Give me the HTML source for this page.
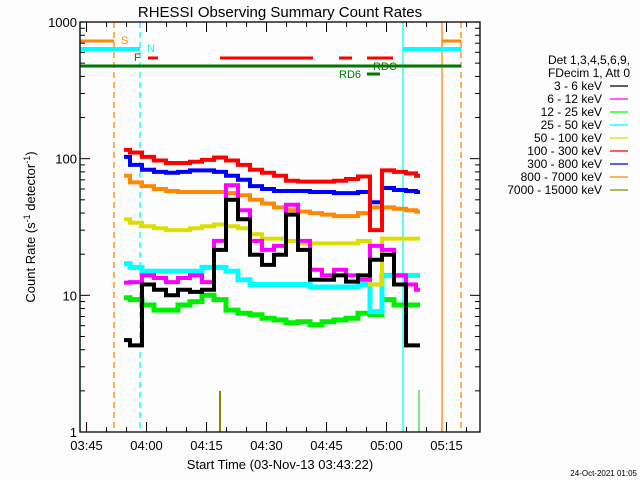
<!DOCTYPE html>
<html><head><meta charset="utf-8">
<style>
body{margin:0;background:#fcfcfc;}
svg{display:block;font-family:"Liberation Sans",sans-serif;}
</style></head>
<body>
<svg id="chart" width="640" height="480" viewBox="0 0 640 480">
<rect x="0" y="0" width="640" height="480" fill="#fcfcfc"/>
<text x="280" y="17" font-size="15" text-anchor="middle" fill="#000">RHESSI Observing Summary Count Rates</text>
<text transform="translate(35,227) rotate(-90)" font-size="13" text-anchor="middle" fill="#000">Count Rate (s<tspan baseline-shift="super" font-size="9">-1</tspan> detector<tspan baseline-shift="super" font-size="9">-1</tspan>)</text>
<text x="280" y="469" font-size="13" text-anchor="middle" fill="#000">Start Time (03-Nov-13 03:43:22)</text>
<text x="637" y="476" font-size="8" text-anchor="end" fill="#000">24-Oct-2021 01:05</text>
<g id="marks"></g>
<g id="axes"></g>
<g id="legend"></g>
</svg>
<script>
// time in minutes since 03:43:22
const times = [11,14,17,20,23,26,29,32,35,38,41,44,47,50,53,56,59,62,65,68,71,74,77,80,83,85];
const red     = [116,111,103,97,93,93,95,98,102,97,90,83,79,75,69,68,68,68,69,71,74,30,82,80,78,75];
const blue    = [103,90,83,80,79,80,82,82,80,75,70,63,60,58,58,58,57,57,56,56,57,48,61,59,58,57];
const orange  = [75,67,63,60,58,57,57,57,57,56,54,50,47,44,42,41,40,39,38,38,40,44,44,43,42,41];
const yellow  = [36,34,32,31,30,30,31,32,33,32,31,28,26,26,25,24,24,24,24,24,25,12,26,26,26,26];
const cyan    = [17,16,15,15,15,15,15,16,16,15,13,12,12,12,12,12,11.5,11.5,11.5,11.5,12,7.6,14,14,14,14];
const green   = [9.6,9.3,8.5,7.8,7.8,8.5,9.0,10,9.3,7.8,7.4,7.2,6.8,6.6,6.3,6.4,6.1,6.4,6.6,6.8,7.4,7.2,9.3,8.5,8.5,8.5];
const magenta = [12.4,12.5,14,13.4,12.5,13.4,14,12.5,25,64,42,25,21.5,23,46,25,15.4,14,15.4,14,13,23,21.5,14,12,11];
const black   = [4.7,4.3,12,11,10,11,10.6,11,21.5,50,36,19.8,16.7,19.8,39,21.5,13,13,14,12.6,14,18.2,19.8,12,4.3,4.3];
const olive   = [1,1,1,1,1,1,1,1,2.0,1,1,1,1,1,1,1,1,1,1,1,1,1,1,1,1,1];
const xTickLabels = ["03:45","04:00","04:15","04:30","04:45","05:00","05:15"];
const xTickMinutes = [1.633,16.633,31.633,46.633,61.633,76.633,91.633];
const yTickLabels = ["1","10","100","1000"];
const yTickValues = [1,10,100,1000];
const legendLabels = ["3 - 6 keV","6 - 12 keV","12 - 25 keV","25 - 50 keV","50 - 100 keV","100 - 300 keV","300 - 800 keV","800 - 7000 keV","7000 - 15000 keV"];

const NS="http://www.w3.org/2000/svg";
const L=80,R=480,T=22,B=432;
function xs(t){return L+(t/100)*(R-L);}
function ys(v){return B-(B-T)*Math.log10(v)/3;}
function mk(tag,attrs,parent){const e=document.createElementNS(NS,tag);for(const k in attrs)e.setAttribute(k,attrs[k]);parent.appendChild(e);return e;}
const marks=document.getElementById('marks'),axes=document.getElementById('axes'),legend=document.getElementById('legend');

// vertical event lines
const vl=[[80,'#00ffff',null],[114,'#ff8800','6,4'],[140,'#00ffff','6,4'],[403,'#00ffff',null],[442,'#ff8800',null],[461,'#ff8800','6,4']];
vl.forEach(v=>{const e=mk('line',{x1:v[0],x2:v[0],y1:T,y2:B,stroke:v[1],'stroke-width':1.3},marks);if(v[2])e.setAttribute('stroke-dasharray',v[2]);

});
const gl=mk('line',{x1:419,x2:419,y1:390,y2:B,stroke:'#00cc00','stroke-width':1},marks);



// flag bars
const bars=[[80,114,41,'#ff8800',3],[442,461,41,'#ff8800',3],[80,140,49,'#00ffff',4],[403,461,49,'#00ffff',4],
[148,158,58,'#ff0000',3],[220,313,58,'#ff0000',3],[339,352,58,'#ff0000',3],[367,393,58,'#ff0000',3],
[80,461,66,'#007700',3],[367,380,74,'#007700',3]];
bars.forEach(b=>{const e=mk('line',{x1:b[0],x2:b[1],y1:b[2],y2:b[2],stroke:b[3],'stroke-width':b[4]},marks);

});
const fl=[['S',121,44,'#ff8800'],['N',147,52,'#00ffff'],['F',134,61,'#ff0000'],['RDC',373,70,'#007700'],['RD6',339,78,'#007700']];
fl.forEach(f=>{const e=mk('text',{x:f[1],y:f[2],fill:f[3],'font-size':11},marks);e.textContent=f[0];

});

// series
const series=[[olive,'#888800',0,'olive-series'],[green,'#00ee00',5,'series-12-25'],[cyan,'#00ffff',5,'series-25-50'],[yellow,'#dddd00',4,'series-50-100'],
[orange,'#ff8800',4,'series-800-7000'],[blue,'#0000ff',4,'series-300-800'],[red,'#ff0000',4,'series-100-300'],[magenta,'#ff00ff',4,'series-6-12'],[black,'#000000',4,'series-3-6']];
series.forEach(s=>{
  if(s[2]===0){
    s[0].forEach((v,i)=>{if(v>1){const e=mk('line',{x1:xs(times[i]),x2:xs(times[i]),y1:ys(1),y2:ys(v),stroke:s[1],'stroke-width':2},marks);
    
    }});
    return;
  }
  const n=s[0].length;
  const p=[];
  s[0].forEach((v,i)=>{
    const x0=i===0?xs(times[0]):(xs(times[i-1])+xs(times[i]))/2;
    const x1=i===n-1?xs(times[n-1]):(xs(times[i])+xs(times[i+1]))/2;
    p.push(x0.toFixed(1)+','+ys(v).toFixed(1));
    p.push(x1.toFixed(1)+','+ys(v).toFixed(1));
  });
  const e=mk('polyline',{points:p.join(' '),fill:'none',stroke:s[1],'stroke-width':s[2],'stroke-linejoin':'miter'},marks);
  
  
});

// axes box
const box=mk('rect',{x:L,y:T,width:R-L,height:B-T,fill:'none',stroke:'#000','stroke-width':1.3},axes);


// y ticks
for(let d=0;d<3;d++){for(let m=1;m<10;m++){const v=Math.pow(10,d)*m;const y=ys(v);const len=m===1?10:5;
  mk('line',{x1:L,x2:L+len,y1:y,y2:y,stroke:'#000'},axes);mk('line',{x1:R,x2:R-len,y1:y,y2:y,stroke:'#000'},axes);}}
yTickValues.forEach((v,i)=>{const e=mk('text',{x:L-3,y:ys(v)+5,'font-size':13,'text-anchor':'end',fill:'#000'},axes);e.textContent=yTickLabels[i];

});
// x ticks
for(let t=1.633;t<100;t+=5){const x=xs(t);const major=Math.abs(((t-1.633)/15)-Math.round((t-1.633)/15))<0.01;const len=major?10:5;
  mk('line',{x1:x,x2:x,y1:B,y2:B-len,stroke:'#000'},axes);mk('line',{x1:x,x2:x,y1:T,y2:T+len,stroke:'#000'},axes);}
xTickMinutes.forEach((t,i)=>{const e=mk('text',{x:xs(t),y:450,'font-size':13,'text-anchor':'middle',fill:'#000'},axes);e.textContent=xTickLabels[i];

});

// legend
const lcol=['#000000','#ff00ff','#00ff00','#00ffff','#dddd00','#ff0000','#0000ff','#ff8800','#888800'];
[['Det 1,3,4,5,6,9,',64],['FDecim 1, Att 0',77]].forEach(h=>{const e=mk('text',{x:630,y:h[1],'font-size':12,'text-anchor':'end',fill:'#000'},legend);e.textContent=h[0];

});
legendLabels.forEach((lab,i)=>{const y=86+i*13;const e=mk('text',{x:602,y:y+4,'font-size':12,'text-anchor':'end',fill:'#000'},legend);e.textContent=lab;


mk('line',{x1:610,x2:628,y1:y,y2:y,stroke:lcol[i],'stroke-width':1.3},legend);});
</script>
</body></html>
